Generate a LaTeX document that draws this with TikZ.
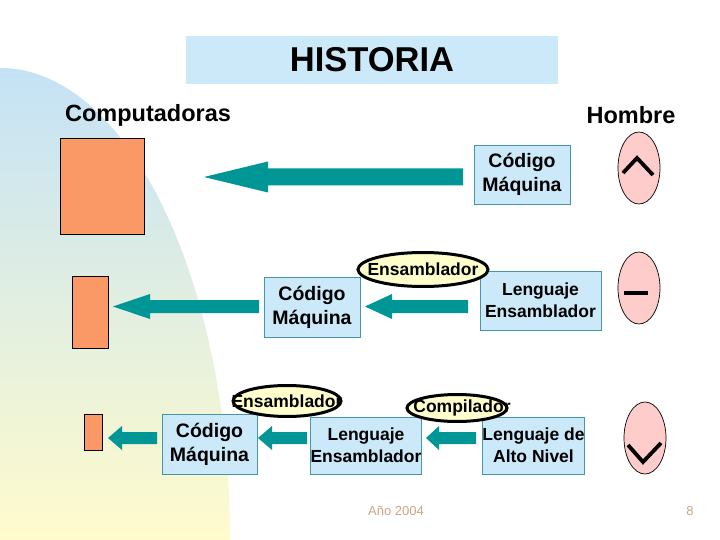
\documentclass[tikz,border=0pt]{standalone}
\usepackage{fontspec}
\setmainfont{Liberation Sans}
\usetikzlibrary{shapes.geometric,calc}
\definecolor{tealarr}{RGB}{0,150,150}
\definecolor{boxblue}{RGB}{204,233,250}
\definecolor{boxedge}{RGB}{70,150,170}
\definecolor{orangepc}{RGB}{250,153,102}
\definecolor{yellowel}{RGB}{255,255,204}
\definecolor{pinkel}{RGB}{255,204,204}
\definecolor{bgblue}{RGB}{196,226,246}
\definecolor{bgmid}{RGB}{228,241,222}
\definecolor{bgyellow}{RGB}{255,251,204}
\definecolor{foot}{RGB}{205,165,135}
\newcommand{\blockarr}[5]{%
  \fill[tealarr] ($(#1)+(0,-#3)$) -- ($(#2)+(#5,-#3)$) -- ($(#2)+(#5,-#4)$) -- (#2)
    -- ($(#2)+(#5,#4)$) -- ($(#2)+(#5,#3)$) -- ($(#1)+(0,#3)$) -- cycle;}
\tikzset{
  infobox/.style={draw=boxedge, line width=0.8pt, fill=boxblue, inner sep=0pt, align=center},
  cmtext/.style={font=\bfseries\fontsize{19.5}{24}\selectfont},
  letext/.style={font=\bfseries\fontsize{17.5}{22}\selectfont},
  pcbox/.style={draw=black, line width=0.8pt, fill=orangepc, inner sep=0pt},
  yellipse/.style={ellipse, draw=black, line width=3pt, fill=yellowel, inner sep=0pt},
  ytext/.style={font=\bfseries\fontsize{17.5}{20}\selectfont, inner sep=0pt},
  pellipse/.style={ellipse, draw=black, line width=0.7pt, fill=pinkel, inner sep=0pt, minimum width=42pt, minimum height=72pt},
  mood/.style={line width=3.8pt, black},
  headtext/.style={font=\bfseries\fontsize{23.5}{28}\selectfont},
  foottext/.style={text=foot, font=\fontsize{13}{15}\selectfont}
}
\begin{document}
\begin{tikzpicture}[x=1pt,y=-1pt]
\useasboundingbox (0,0) rectangle (720,540);
\fill[white] (0,0) rectangle (720,540);
% background curved shape
\shade[top color=bgblue, middle color=bgmid, bottom color=bgyellow]
  (0,540) -- (0,68) .. controls (127,68) and (230,279) .. (230,540) -- cycle;
% title
\node[fill=boxblue, minimum width=372pt, minimum height=48pt, inner sep=0pt,
      font=\bfseries\fontsize{34.5}{40}\selectfont] (title) at (372,60) {HISTORIA};
\node[headtext] (comp) at (148,115) {Computadoras};
\node[headtext] (hombre) at (631,115) {Hombre};
% computers
\node[pcbox, minimum width=84pt, minimum height=96pt] (pc1) at (102,186) {};
\node[pcbox, minimum width=36pt, minimum height=72pt] (pc2) at (90,312) {};
\node[pcbox, minimum width=18pt, minimum height=36pt] (pc3) at (93,432) {};
% boxes
\node[infobox, cmtext, minimum width=96pt, minimum height=59pt] (cm1) at (522,174.5) {Código\\Máquina};
\node[infobox, cmtext, minimum width=96pt, minimum height=60pt] (cm2) at (312,307) {Código\\Máquina};
\node[infobox, letext, minimum width=121pt, minimum height=59pt] (le2) at (540.5,300.5) {Lenguaje\\Ensamblador};
\node[infobox, cmtext, minimum width=95pt, minimum height=60pt] (cm3) at (209.5,444) {Código\\Máquina};
\node[infobox, letext, minimum width=108pt, minimum height=57pt] (le3) at (366,445.5) {Lenguaje\\Ensamblador};
\node[infobox, letext, minimum width=93pt, minimum height=57pt] (an3) at (533.5,445.5) {Lenguaje de\\Alto Nivel};
% translator ellipses
\node[yellipse, minimum width=130pt, minimum height=34pt] (en2) at (423,269.5) {};
\node[ytext] (en2t) at (en2.center) {Ensamblador};
\node[yellipse, minimum width=108pt, minimum height=31pt] (en3) at (287,401) {};
\node[ytext] (en3t) at (en3.center) {Ensamblador};
\node[yellipse, minimum width=100pt, minimum height=27pt] (co3) at (457,408) {};
\node[ytext] (co3t) at ([xshift=5pt]co3.center) {Compilador};
% arrows (connectors between boxes)
\coordinate (a1s) at (463,177);   \coordinate (a1e) at (204,177);
\coordinate (a2s) at (259,306.5); \coordinate (a2e) at (113,306.5);
\coordinate (a3s) at (468,306.5); \coordinate (a3e) at (365,306.5);
\coordinate (a4s) at (157,438);   \coordinate (a4e) at (108,438);
\coordinate (a5s) at (307,438);   \coordinate (a5e) at (258,438);
\coordinate (a6s) at (476,438);   \coordinate (a6e) at (426,438);
\blockarr{a1s}{a1e}{8.5}{15.5}{64}
\blockarr{a2s}{a2e}{6.5}{12.5}{37}
\blockarr{a3s}{a3e}{6.5}{12.5}{27}
\blockarr{a4s}{a4e}{6}{12}{14}
\blockarr{a5s}{a5e}{6}{12}{14}
\blockarr{a6s}{a6e}{6}{12}{13}
% human ellipses
\node[pellipse] (h1) at (639,168) {};
\node[pellipse] (h2) at (639,288) {};
\node[pellipse] (h3) at (645,438) {};
\draw[mood] ($(h1)+(-16,5)$) -- ($(h1)+(-2,-10)$) -- ($(h1)+(14,7)$);
\draw[mood] ($(h2)+(-15,5)$) -- ($(h2)+(9,5)$);
\draw[mood] ($(h3)+(-17,7)$) -- ($(h3)+(-2,24)$) -- ($(h3)+(16,5)$);
% footer
\node[foottext] (year) at (396,511) {Año 2004};
\node[foottext] (page) at (690,511) {8};
\end{tikzpicture}
\end{document}
